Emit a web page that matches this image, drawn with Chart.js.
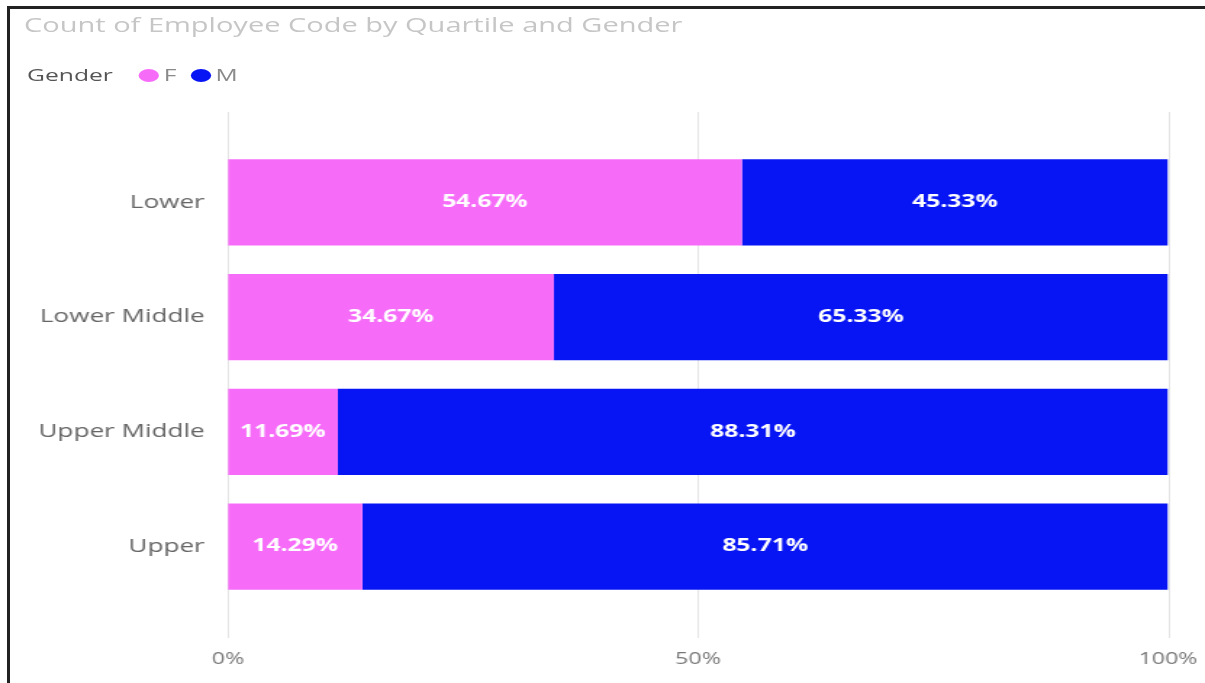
<!DOCTYPE html>
<html>
<head>
<meta charset="utf-8">
<script src="https://cdn.jsdelivr.net/npm/chart.js@4"></script>
<style>
  html, body { margin: 0; padding: 0; background: #fff; }
  body { width: 1205px; height: 683px; overflow: hidden; position: relative; font-family: 'Open Sans', 'DejaVu Sans', sans-serif; }
  #c { position: absolute; left: 0; top: 0; }
  .frame { position: absolute; background: #222; }
  #title { position: absolute; left: 24px; top: 15px; font-size: 20px; line-height: 20px; color: #c6c6c6; white-space: nowrap; transform: scaleX(1.45); transform-origin: 0 0; }
  #legend { position: absolute; left: 27px; top: 66px; height: 18px; font-size: 17px; line-height: 18px; white-space: nowrap; display: flex; align-items: center; transform: scaleX(1.45); transform-origin: 0 0; }
  #legend .ttl { color: #555; margin-right: 18px; }
  #legend .dot { display: inline-block; width: 14px; height: 13px; border-radius: 50%; margin-right: 3px; }
  #legend .lbl { color: #8a8a8a; margin-right: 10px; }
</style>
</head>
<body>
<canvas id="c" width="831" height="683" style="width:1205px;height:683px;"></canvas>
<div class="frame" style="left:7px;top:6px;width:1198px;height:3px;"></div>
<div class="frame" style="left:7px;top:6px;width:3px;height:677px;"></div>
<div id="title">Count of Employee Code by Quartile and Gender</div>
<div id="legend"><span class="ttl">Gender</span></div>
<script>
// ---- data ----
const categories = ['Lower', 'Lower Middle', 'Upper Middle', 'Upper'];
const seriesNames = ['F', 'M'];
const femaleShare = [54.67, 34.67, 11.69, 14.29];
const maleShare = [45.33, 65.33, 88.31, 85.71];
const seriesColors = ['#F66CF9', '#0714F4'];
const xTickValues = [0, 50, 100];

// ---- html legend ----
const legendEl = document.getElementById('legend');
seriesNames.forEach((name, i) => {
  const dot = document.createElement('span');
  dot.className = 'dot';
  dot.style.background = seriesColors[i];
  const lbl = document.createElement('span');
  lbl.className = 'lbl';
  lbl.textContent = name;
  legendEl.appendChild(dot);
  legendEl.appendChild(lbl);
});

// ---- plugins ----
const extendedGrid = {
  id: 'extendedGrid',
  beforeDatasetsDraw(chart) {
    const { ctx, chartArea, scales } = chart;
    const x = scales.x;
    ctx.save();
    ctx.strokeStyle = '#e4e4e4';
    ctx.lineWidth = 1;
    x.ticks.forEach(t => {
      const px = Math.round(x.getPixelForValue(t.value)) + 0.5;
      ctx.beginPath();
      ctx.moveTo(px, chartArea.top - 33);
      ctx.lineTo(px, chartArea.bottom + 34);
      ctx.stroke();
    });
    ctx.restore();
  }
};

const barLabels = {
  id: 'barLabels',
  afterDatasetsDraw(chart) {
    const { ctx } = chart;
    ctx.save();
    ctx.fillStyle = '#ffffff';
    ctx.font = "bold 17px 'Open Sans'";
    ctx.textAlign = 'center';
    ctx.textBaseline = 'middle';
    chart.data.datasets.forEach((ds, i) => {
      const meta = chart.getDatasetMeta(i);
      meta.data.forEach((bar, j) => {
        const p = bar.getCenterPoint();
        ctx.fillText(ds.data[j].toFixed(2) + '%', p.x, p.y);
      });
    });
    ctx.restore();
  }
};

const datasets = [femaleShare, maleShare].map((vals, i) => ({
  label: seriesNames[i],
  data: vals,
  backgroundColor: seriesColors[i],
  borderWidth: 0,
  barPercentage: 0.75,
  categoryPercentage: 1
}));

new Chart(document.getElementById('c'), {
  type: 'bar',
  data: { labels: categories, datasets },
  options: {
    indexAxis: 'y',
    responsive: false,
    animation: false,
    devicePixelRatio: 1,
    layout: { padding: { left: 0, right: 0, top: 145, bottom: 0 } },
    plugins: {
      legend: { display: false },
      title: { display: false },
      tooltip: { enabled: false }
    },
    scales: {
      x: {
        stacked: true,
        min: 0,
        max: 100,
        afterBuildTicks: axis => { axis.ticks = xTickValues.map(v => ({ value: v })); },
        afterFit: axis => { axis.height = 79; axis.paddingLeft = 0; axis.paddingRight = 25.5; },
        grid: { display: false, drawTicks: false },
        border: { display: false },
        ticks: {
          callback: v => v + '%',
          color: '#777',
          font: { family: 'Open Sans', size: 16 },
          padding: 46,
          maxRotation: 0,
          autoSkip: false
        }
      },
      y: {
        stacked: true,
        afterFit: axis => { axis.width = 157.2; },
        grid: { display: false, drawTicks: false },
        border: { display: false },
        ticks: {
          color: '#666',
          font: { family: 'Open Sans', size: 18 },
          padding: 16
        }
      }
    }
  },
  plugins: [extendedGrid, barLabels]
});
</script>
</body>
</html>
